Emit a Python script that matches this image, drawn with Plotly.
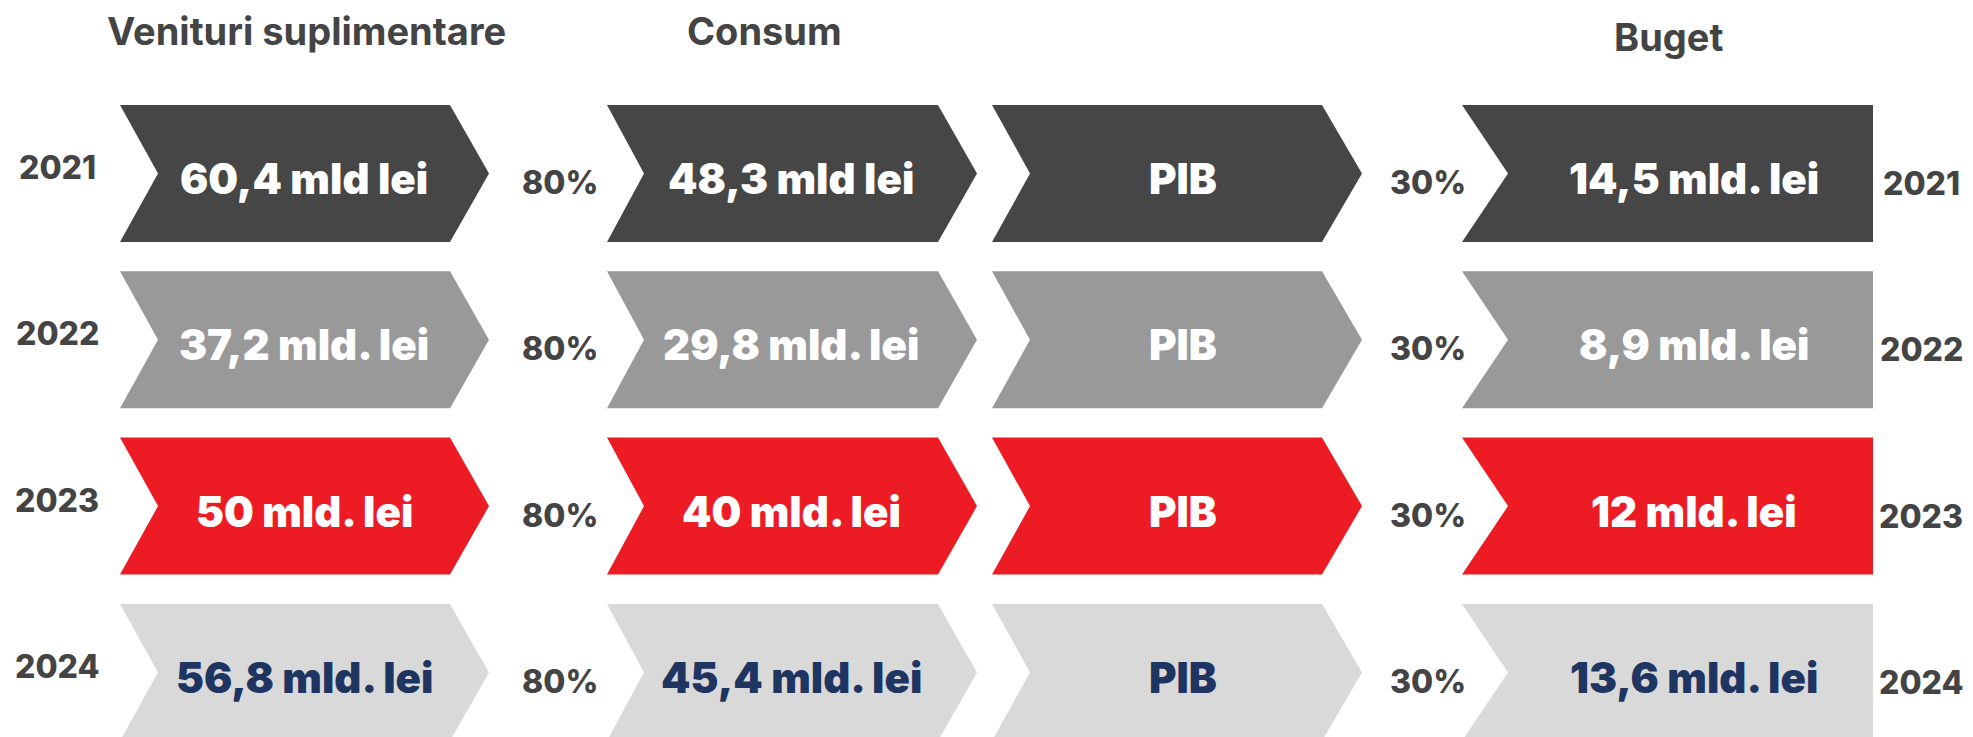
import plotly.graph_objects as go

# ---- data ----
years = ["2021", "2022", "2023", "2024"]
venituri = ["60,4 mld lei", "37,2 mld. lei", "50 mld. lei", "56,8 mld. lei"]
consum = ["48,3 mld lei", "29,8 mld. lei", "40 mld. lei", "45,4 mld. lei"]
pib = ["PIB", "PIB", "PIB", "PIB"]
buget = ["14,5 mld. lei", "8,9 mld. lei", "12 mld. lei", "13,6 mld. lei"]
share_consum = ["80%", "80%", "80%", "80%"]
share_buget = ["30%", "30%", "30%", "30%"]
column_titles = ["Venituri suplimentare", "Consum", "Buget"]

# ---- style ----
row_fill = ["#464646", "#999999", "#ED1C24", "#D9D9D9"]
row_text = ["#FFFFFF", "#FFFFFF", "#FFFFFF", "#1F3561"]
label_color = "#444444"
FONT = "Inter"

W, H = 1973, 737
row_top0, row_pitch, row_h = 105, 166.3, 137
# columns: (left, right_top, notch depth, tip depth, label x offset)
cols = [(120, 450, 38, 39, 0), (607, 938, 37, 39, 0), (992, 1322, 38, 40, 7), (1462, 1873, 46, 0, 3)]
col_values = [venituri, consum, pib, buget]

fig = go.Figure()

for r in range(len(years)):
    top = row_top0 + r * row_pitch
    bot = top + row_h
    mid = (top + bot) / 2
    for c, (left, right, notch, tip, dx) in enumerate(cols):
        xs = [left, right, right + tip, right, left, left + notch, left]
        ys = [top, top, mid, bot, bot, mid, top]
        fig.add_trace(go.Scatter(x=xs, y=ys, mode="lines", fill="toself",
                                 fillcolor=row_fill[r], line=dict(width=0),
                                 hoverinfo="skip", showlegend=False))
        fig.add_annotation(x=(left + notch + right) / 2 + dx, y=mid + 5,
                           text=col_values[c][r], showarrow=False,
                           font=dict(family=FONT, size=42, color=row_text[r], weight=900),
                           xanchor="center", yanchor="middle")
    # year labels and shares
    fig.add_annotation(x=57, y=mid - 6, text=years[r], showarrow=False,
                       font=dict(family=FONT, size=32, color=label_color, weight=800))
    fig.add_annotation(x=1921, y=mid + 10, text=years[r], showarrow=False,
                       font=dict(family=FONT, size=32, color=label_color, weight=800))
    fig.add_annotation(x=560, y=mid + 9, text=share_consum[r], showarrow=False,
                       font=dict(family=FONT, size=32, color=label_color, weight=800))
    fig.add_annotation(x=1428, y=mid + 9, text=share_buget[r], showarrow=False,
                       font=dict(family=FONT, size=32, color=label_color, weight=800))

title_pos = [(306, 31), (764, 31), (1668, 37)]
for t, (x, y) in zip(column_titles, title_pos):
    fig.add_annotation(x=x, y=y, text=t, showarrow=False,
                       font=dict(family=FONT, size=38, color=label_color, weight=700))

fig.update_xaxes(range=[0, W], visible=False, fixedrange=True)
fig.update_yaxes(range=[H, 0], visible=False, fixedrange=True)
fig.update_layout(width=W, height=H, margin=dict(l=0, r=0, t=0, b=0),
                  plot_bgcolor="white", paper_bgcolor="white")

fig.write_html("out.html", config={"displayModeBar": False},
               post_script="document.body.style.margin='0';")
